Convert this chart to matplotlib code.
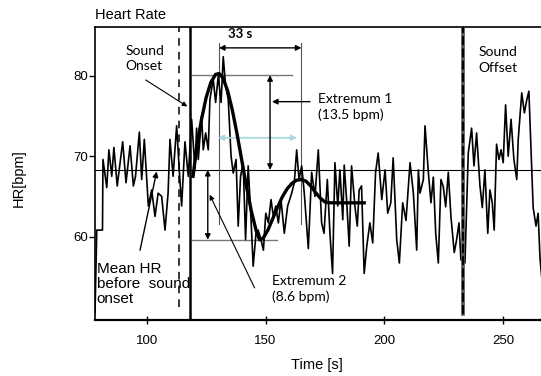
import matplotlib
matplotlib.use("Agg")
import matplotlib.pyplot as plt

# ── data ────────────────────────────────────────────────────────────────────
raw_t = [78.25, 79.0, 81.4, 81.6, 83.2, 84.1, 85.3, 86.2, 87.6, 89.9, 91.3, 93.0,
         94.4, 95.3, 96.9, 97.9, 99.0, 100.7, 102.1, 103.5, 104.8, 106.3, 107.7,
         109.0, 109.8, 111.1, 112.6, 113.7, 114.7, 116.1, 117.5, 118.9, 120.3,
         121.0, 121.7, 123.1, 123.8, 124.8, 125.9, 126.6, 128.0, 129.0, 130.1,
         131.3, 132.2, 133.2, 134.3, 135.5, 136.4, 137.6, 138.5, 139.5, 140.6,
         141.6, 142.7, 143.9, 144.8, 146.0, 146.9, 148.1, 149.1, 150.1, 151.2,
         152.3, 153.3, 154.3, 155.4, 156.5, 157.9, 159.3, 161.0, 162.1, 163.1,
         164.1, 165.2, 166.3, 168.0, 169.4, 170.8, 172.2, 173.6, 174.6, 176.0,
         177.1, 178.2, 179.2, 180.4, 181.3, 182.5, 183.1, 184.1, 185.2, 186.2,
         187.6, 188.6, 189.4, 190.4, 191.5, 192.6, 193.9, 195.1, 196.3, 197.4,
         198.9, 200.3, 201.4, 202.7, 203.7, 205.2, 206.3, 207.7, 209.1, 210.8,
         212.2, 213.6, 214.3, 215.0, 216.4, 217.1, 218.5, 219.6, 220.6, 221.6,
         222.7, 223.8, 224.8, 225.8, 226.9, 228.0, 229.4, 230.4, 231.4, 232.2,
         233.2, 233.9, 235.3, 236.7, 237.7, 238.8, 240.2, 241.2, 242.3, 243.5,
         244.4, 245.4, 246.2, 247.2, 248.2, 249.1, 250.0, 251.0, 252.1, 253.3,
         254.5, 255.7, 256.3, 257.8, 258.9, 259.9, 260.8, 262.0, 262.6, 263.8,
         264.7, 265.5, 266.5]
raw_hr = [50.5, 60.8, 60.8, 69.6, 66.1, 70.8, 67.5, 71.1, 66.3, 71.8, 66.7, 71.3,
          66.3, 67.5, 73.0, 67.1, 72.1, 63.8, 65.8, 62.5, 65.4, 65.0, 60.8,
          65.4, 72.1, 67.5, 73.8, 68.3, 63.8, 71.8, 67.5, 74.6, 68.5,
          73.5, 69.6, 75.0, 70.8, 72.9, 70.8, 77.1, 79.6, 76.7, 80.0,
          76.7, 82.4, 78.8, 77.1, 70.0, 67.9, 69.6, 61.3, 67.5, 69.2,
          59.6, 68.8, 62.1, 56.3, 60.4, 60.8, 59.6, 58.3, 62.9, 61.7,
          64.6, 62.5, 63.8, 61.7, 64.6, 60.4, 63.8, 65.4, 66.7, 70.8,
          67.1, 68.8, 65.4, 58.5, 68.0, 65.0, 70.8, 61.7, 60.4, 67.1,
          60.4, 55.4, 69.2, 63.8, 68.3, 62.1, 68.9, 64.6, 58.8, 68.8,
          63.8, 61.3, 65.8, 66.3, 55.4, 58.8, 61.7, 59.2, 68.0, 70.4,
          64.6, 68.3, 62.9, 64.2, 69.8, 59.6, 56.7, 64.2, 62.0, 69.2,
          65.4, 58.3, 68.3, 65.4, 67.1, 73.8, 68.0, 64.2, 67.4, 60.4,
          56.7, 67.1, 66.2, 63.7, 68.0, 62.5, 58.0, 59.6, 61.7, 57.1,
          57.1, 56.7, 70.4, 73.5, 68.8, 72.9, 66.4, 63.6, 68.3, 60.4,
          65.8, 64.2, 60.8, 71.5, 69.6, 70.8, 69.2, 76.4, 70.0, 74.6,
          69.6, 67.1, 72.0, 77.9, 75.4, 77.0, 78.1, 68.3, 63.6, 61.3,
          62.9, 57.2, 54.0]

smooth_t = [119.5, 121, 123, 125, 127, 129, 130.5, 132, 134, 136, 138, 140, 142,
            144, 146, 147.5, 149, 151, 153, 155, 157, 159, 161, 163, 165, 167,
            169, 171, 173, 175, 177, 191.5]
smooth_hr = [67.5, 71.0, 74.5, 77.3, 79.2, 80.2, 80.3, 79.8, 78.2, 75.8, 72.8,
             69.5, 66.2, 63.2, 60.8, 59.6, 59.8, 60.8, 62.2, 63.6, 64.9, 65.9,
             66.6, 67.0, 67.1, 66.9, 66.3, 65.5, 64.8, 64.3, 64.2, 64.2]

mean_hr = 68.3
pre_onset_t = 113.6
onset_t = 118.2
offset_t = 232.9
peak1_t, peak2_t = 130.4, 165.1
ext1_hr, ext2_hr = 80.1, 59.6

NARROW = ["Liberation Sans Narrow", "Liberation Sans"]
NOTE = ["Lato", "DejaVu Sans"]

fig = plt.figure(figsize=(5.41, 3.76), dpi=100)
ax = fig.add_axes([95 / 541, 56 / 376, 446 / 541, 293 / 376])
ax.set_xlim(78.25, 265.9)
ax.set_ylim(49.6, 86.1)

# raw signal + smoothed response
ax.plot(raw_t, raw_hr, color="black", lw=1.2, zorder=3)
ax.plot(smooth_t, smooth_hr, color="black", lw=2.4, zorder=4)

# reference lines
ax.axhline(mean_hr, color="black", lw=0.8, zorder=2)
ax.plot([pre_onset_t, pre_onset_t], [51.2, 86.1], color="black", lw=1.1,
        ls=(0, (5, 4)), zorder=2)
ax.plot([onset_t, onset_t], [49.6, 86.1], color="black", lw=1.8, zorder=5)
ax.plot([offset_t, offset_t], [50.4, 86.1], color="#555555", lw=2.6, zorder=5)
ax.plot([offset_t, offset_t], [50.4, 86.1], color="black", lw=1.6,
        ls=(0, (4, 1.5)), zorder=6)

# 33 s interval
for t in (peak1_t, peak2_t):
    ax.plot([t, t], [61.5, 84.1], color="#555555", lw=0.8, zorder=2)
arr = dict(arrowstyle="<|-|>", color="black", lw=1.0, mutation_scale=8,
           shrinkA=0, shrinkB=0)
ax.annotate("", xy=(peak1_t, 83.5), xytext=(peak2_t, 83.5), arrowprops=arr)
ax.text(139.3, 85.2, "33 s", fontsize=9.5, fontweight="bold", family=NOTE,
        ha="center", va="center")

# cyan interval
ax.annotate("", xy=(130.0, 72.3), xytext=(163.3, 72.3),
            arrowprops=dict(arr, color="#a9d9dc", lw=1.3))

# extremum 1
ax.plot([119.1, 161.2], [ext1_hr, ext1_hr], color="#777777", lw=1.0, zorder=2)
ax.annotate("", xy=(151.9, ext1_hr), xytext=(151.9, mean_hr), arrowprops=arr)
ax.annotate("", xy=(152.7, 76.8), xytext=(168.7, 76.8),
            arrowprops=dict(arrowstyle="-|>", color="black", lw=1.0,
                            mutation_scale=8, shrinkA=0, shrinkB=0))
ax.text(172.1, 76.1, "Extremum 1\n(13.5 bpm)", fontsize=10, family=NOTE,
        ha="left", va="center", linespacing=1.35)

# extremum 2
ax.plot([119.0, 154.8], [ext2_hr, ext2_hr], color="#777777", lw=1.0, zorder=2)
ax.annotate("", xy=(125.7, mean_hr), xytext=(125.7, ext2_hr), arrowprops=arr)
ax.annotate("", xy=(126.5, 65.2), xytext=(145.4, 53.6),
            arrowprops=dict(arrowstyle="-|>", color="black", lw=0.8,
                            mutation_scale=7, shrinkA=0, shrinkB=0))
ax.text(152.6, 53.5, "Extremum 2\n(8.6 bpm)", fontsize=10, family=NOTE,
        ha="left", va="center", linespacing=1.35)

# onset / offset labels
ax.annotate("", xy=(117.1, 76.2), xytext=(99.6, 79.5),
            arrowprops=dict(arrowstyle="-|>", color="black", lw=0.8,
                            mutation_scale=7, shrinkA=0, shrinkB=0))
ax.text(90.9, 82.2, "Sound\nOnset", fontsize=10, family=NOTE,
        ha="left", va="center", linespacing=1.35)
ax.text(239.5, 82.0, "Sound\nOffset", fontsize=10, family=NOTE,
        ha="left", va="center", linespacing=1.35)

# mean HR label
ax.annotate("", xy=(104.2, 68.1), xytext=(97.2, 58.3),
            arrowprops=dict(arrowstyle="-|>", color="black", lw=1.0,
                            mutation_scale=8, shrinkA=0, shrinkB=0))
ax.text(79.0, 54.1, "Mean HR\nbefore  sound\nonset", fontsize=11,
        family=NARROW, ha="left", va="center", linespacing=1.1)

# axes styling
ax.spines["right"].set_visible(False)
ax.spines["left"].set_linewidth(1.2)
ax.spines["top"].set_linewidth(1.2)
ax.spines["bottom"].set_linewidth(1.6)
ax.set_xticks([100, 150, 200, 250])
ax.set_yticks([60, 70, 80])
ax.tick_params(axis="x", direction="inout", length=6, width=1, pad=8,
               labelsize=9.5)
ax.tick_params(axis="y", direction="out", length=4, width=1, pad=1,
               labelsize=9.5)
for lbl in ax.get_xticklabels() + ax.get_yticklabels():
    lbl.set_family(NARROW)

fig.text(95 / 541, 1 - 15 / 376, "Heart Rate", fontsize=10.5, family=NARROW,
         ha="left", va="center")
fig.text(18.5 / 541, 1 - 178 / 376, "HR[bpm]", fontsize=10.5, family=NARROW,
         rotation=90, ha="center", va="center")
fig.text(316.5 / 541, 1 - 365 / 376, "Time [s]", fontsize=10.5, family=NARROW,
         ha="center", va="center")

fig.savefig("out.png", dpi=100)
